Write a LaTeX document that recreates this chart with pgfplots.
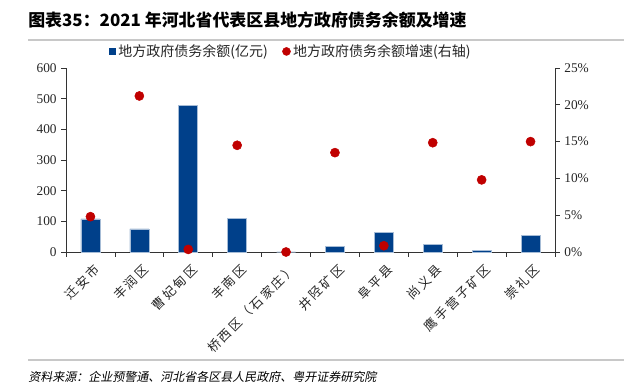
\documentclass[border=0pt]{standalone}
\usepackage{pgfplots}
\pgfplotsset{compat=1.18}
\usepackage{fontspec}
\setmainfont{Liberation Serif}
\newfontfamily\cjk{Noto Sans CJK SC}
\newfontfamily\cjksp[LetterSpace=18]{Noto Sans CJK SC}
\newfontfamily\cjkit[FakeSlant=0.2]{Noto Sans CJK SC}
\definecolor{barblue}{RGB}{0,64,138}
\definecolor{dotred}{RGB}{192,0,0}
\definecolor{linegray}{RGB}{200,200,200}
\begin{document}
\begin{tikzpicture}
\path[use as bounding box] (0,0) rectangle (468pt,291.75pt);
\node[anchor=west, inner sep=0pt] at (21pt,276.5pt) {\cjk\bfseries\fontsize{12.7}{15}\selectfont 图表35：2021 年河北省代表区县地方政府债务余额及增速};
\draw[linegray, line width=1.5pt] (21pt,261.75pt) -- (468pt,261.75pt);
\draw[linegray, line width=1.5pt] (21pt,21.75pt) -- (468pt,21.75pt);
\node[anchor=west, inner sep=0pt] at (21pt,9pt) {\cjkit\fontsize{9}{11}\selectfont 资料来源：企业预警通、河北省各区县人民政府、粤开证券研究院};

\begin{axis}[
  at={(49.5pt,102.75pt)}, anchor=south west,
  scale only axis, width=366.75pt, height=138pt,
  xmin=-0.5, xmax=9.5, ymin=0, ymax=600,
  axis x line*=bottom, axis y line*=left,
  axis line style={-, black!80, line width=0.6pt},
  tick style={black!80, line width=0.6pt},
  tick align=outside, major tick length=3.5pt,
  xtick={-0.5,0.5,...,9.5}, xticklabels={},
  extra x ticks={0,1,2,3,4,5,6,7,8,9},
  extra x tick labels={迁安市,丰润区,曹妃甸区,丰南区,桥西区（石家庄）,井陉矿区,阜平县,尚义县,鹰手营子矿区,崇礼区},
  extra x tick style={major tick length=0pt, tick label style={xshift=7.5pt, yshift=-9pt, rotate=45, anchor=east, font=\cjksp\fontsize{9.5}{10}\selectfont, text=black!85}},
  ytick={0,100,...,600},
  yticklabel style={font=\fontsize{10}{12}\selectfont, text=black!85},
  /pgf/number format/assume math mode=true,
  legend style={draw=none, fill=none, at={(0.088,1.09)}, anchor=west, legend columns=2,
    font=\cjk\fontsize{10.5}{12}\selectfont, text=black!85, inner sep=0pt,
    /tikz/every even column/.append style={column sep=9pt}},
  legend image code/.code={\draw[#1] plot coordinates {(0pt,0pt)};},
  clip=false,
]
\addplot[ybar, bar width=14.25pt, fill=barblue, draw=barblue!35!white, line width=0.5pt, forget plot]
  coordinates {(0,108) (1,75) (2,477) (3,110) (4,0) (5,18) (6,63) (7,24) (8,5) (9,54)};
\addlegendimage{only marks, mark=square*, mark size=2.4pt, color=barblue}
\addlegendentry{地方政府债务余额(亿元)}
\addlegendimage{only marks, mark=*, mark size=3pt, color=dotred}
\addlegendentry{地方政府债务余额增速(右轴)}
\end{axis}

\begin{axis}[
  at={(49.5pt,102.75pt)}, anchor=south west,
  scale only axis, width=366.75pt, height=138pt,
  xmin=-0.5, xmax=9.5, ymin=0, ymax=25,
  axis x line=none, axis y line*=right,
  axis line style={-, black!80, line width=0.6pt},
  tick style={black!80, line width=0.6pt},
  tick align=outside, major tick length=3.5pt,
  ytick={0,5,...,25},
  yticklabel={\pgfmathprintnumber{\tick}\%},
  yticklabel style={font=\fontsize{10}{12}\selectfont, text=black!85},
  /pgf/number format/assume math mode=true,
  clip=false,
]
\addplot[only marks, mark=*, mark size=3.4pt, color=dotred]
  coordinates {(0,4.8) (1,21.2) (2,0.35) (3,14.5) (4,0) (5,13.5) (6,0.85) (7,14.85) (8,9.8) (9,15.0)};
\end{axis}
\end{tikzpicture}
\end{document}
